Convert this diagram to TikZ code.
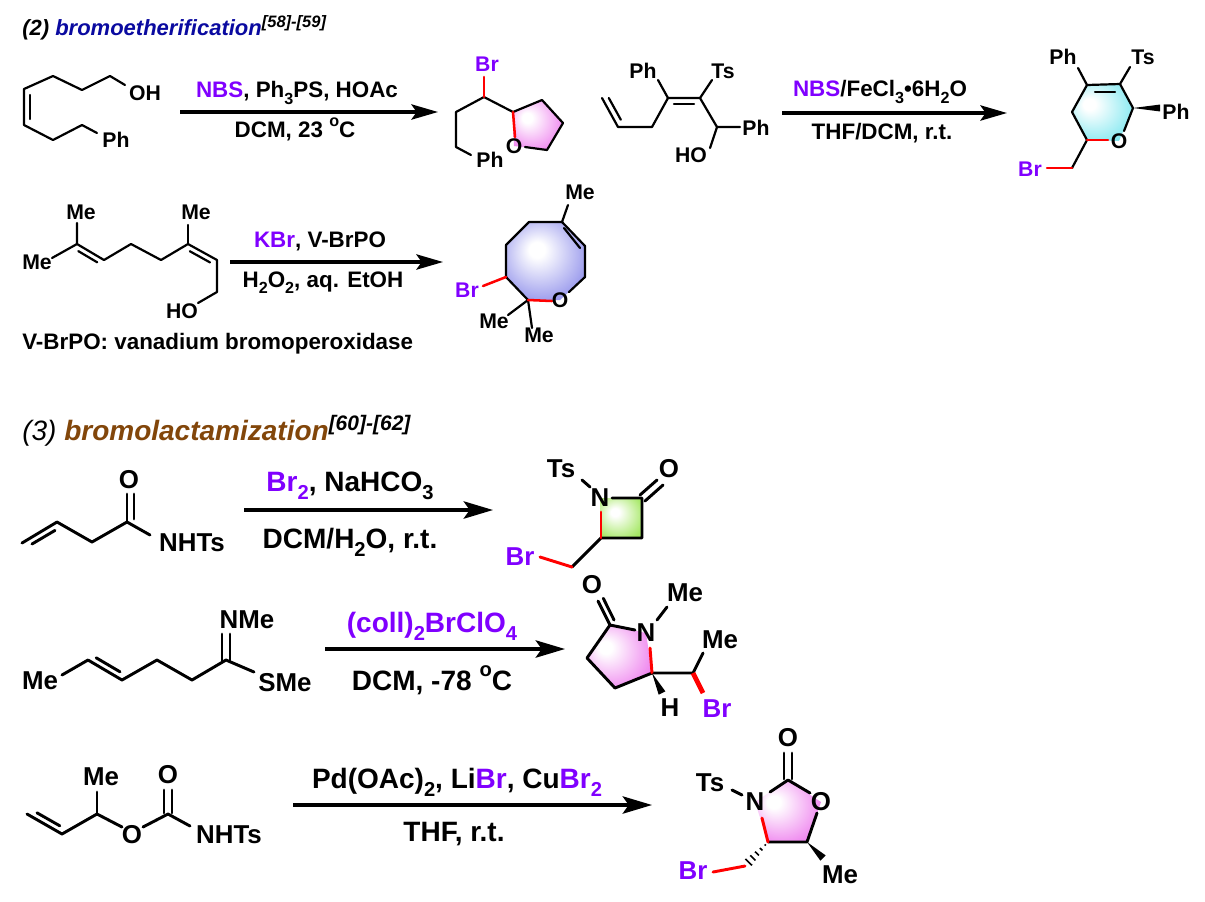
\documentclass[tikz,border=0pt]{standalone}
\usepackage{fontspec}
\setmainfont{Liberation Sans}
\usepackage{graphicx}
\usetikzlibrary{arrows.meta,calc}
\definecolor{brc}{RGB}{128,0,255}
\definecolor{tblue}{RGB}{10,10,160}
\definecolor{tbrown}{RGB}{130,70,10}
\definecolor{ringpink}{RGB}{238,130,238}
\definecolor{ringcyan}{RGB}{130,232,240}
\definecolor{ringlav}{RGB}{145,145,235}
\definecolor{ringgreen}{RGB}{165,232,100}
\pgfdeclareradialshading{shpink}{\pgfpoint{-12bp}{8bp}}{color(0bp)=(white); color(5bp)=(white); color(32bp)=(ringpink); color(50bp)=(ringpink)}
\pgfdeclareradialshading{shcyan}{\pgfpoint{-12bp}{8bp}}{color(0bp)=(white); color(5bp)=(white); color(32bp)=(ringcyan); color(50bp)=(ringcyan)}
\pgfdeclareradialshading{shlav}{\pgfpoint{-6bp}{8bp}}{color(0bp)=(white); color(5bp)=(white); color(32bp)=(ringlav); color(50bp)=(ringlav)}
\pgfdeclareradialshading{shgreen}{\pgfpoint{-8bp}{8bp}}{color(0bp)=(white); color(5bp)=(white); color(32bp)=(ringgreen); color(50bp)=(ringgreen)}
\newcommand\sbs[1]{\raisebox{-0.28em}{\scalebox{0.72}{#1}}}
\newcommand\spo{\raisebox{0.5em}{\scalebox{0.72}{o}}}
\newcommand\fRa{\fontsize{16.8}{18}\selectfont\bfseries}
\newcommand\fLa{\fontsize{15.9}{17}\selectfont\bfseries}
\newcommand\fRb{\fontsize{21}{24}\selectfont\bfseries}
\newcommand\fLb{\fontsize{19.4}{22}\selectfont\bfseries}
\tikzset{
 bA/.style={line width=1.65pt, line cap=round, line join=round},
 bB/.style={line width=2.2pt, line cap=round, line join=round},
 rbA/.style={bA, red, line width=1.9pt},
 rbB/.style={bB, red},
 lA/.style={inner sep=0pt, font=\fLa},
 lB/.style={inner sep=0pt, font=\fLb},
 rgA/.style={inner sep=0pt, font=\fRa},
 rgB/.style={inner sep=0pt, font=\fRb},
 arA/.style={line width=2.3pt, -{Stealth[length=20pt,width=11.5pt,inset=4pt]}},
 arB/.style={line width=2.6pt, -{Stealth[length=22pt,width=13pt,inset=4.5pt]}},
}
\begin{document}
\begin{tikzpicture}[x=0.75pt,y=-0.75pt]
\useasboundingbox (0,0) rectangle (1205,901);
\fill[white] (0,0) rectangle (1205,901);

% ---------------- titles
\node[anchor=base west, inner sep=0pt] (t2) at (22,35) {\fontsize{16.5}{18}\selectfont\bfseries\itshape (2) \textcolor{tblue}{bromoetherification}\raisebox{6pt}{\fontsize{12.4}{14}\selectfont [58]-[59]}};
\node[anchor=base west, inner sep=0pt] (t3) at (22,440) {\fontsize{21}{24}\selectfont\itshape (3) \bfseries\textcolor{tbrown}{bromolactamization}\raisebox{7.5pt}{\fontsize{15.75}{18}\selectfont [60]-[62]}};

% ================= Section 2, row 1, reaction A
\coordinate (a1) at (24,89); \coordinate (a2) at (53,76); \coordinate (a3) at (82,90);
\coordinate (a4) at (110,76); \coordinate (a5) at (125,85);
\coordinate (a6) at (24,125); \coordinate (a7) at (53,140); \coordinate (a8) at (82,125);
\coordinate (a9) at (97,133);
\draw[bA] (a5) -- (a4) -- (a3) -- (a2) -- (a1) -- (a6) -- (a7) -- (a8) -- (a9);
\draw[bA] ($(a1)+(6,6)$) -- ($(a6)+(6,-6)$);
\node[lA] (oh1) at (145,93) {OH};
\node[lA] (ph1) at (116,140) {Ph};

\coordinate (ar1s) at (180,112); \coordinate (ar1e) at (438,112);
\draw[arA] (ar1s) -- (ar1e);
\node[rgA] (rg1a) at (297,93) {\textcolor{brc}{NBS}, Ph\sbs{3}PS, HOAc};
\node[rgA] (rg1b) at (295,129) {DCM, 23 \spo C};

% product A (THF)
\coordinate (b0) at (484,77); \coordinate (b1) at (484,97); \coordinate (b6) at (456,112);
\coordinate (b7) at (456,147); \coordinate (b8) at (471,155);
\coordinate (b2) at (513,112); \coordinate (b3) at (542,100); \coordinate (b4) at (563,123);
\coordinate (b5) at (547,150); \coordinate (b9) at (525,147); \coordinate (b10) at (515,137);
\coordinate (bO) at (514,146);
\shade[shading=shpink] (b2) -- (b3) -- (b4) -- (b5) -- (bO) -- cycle;
\draw[bA] (b8) -- (b7) -- (b6) -- (b1) -- (b2) -- (b3) -- (b4) -- (b5) -- (b9);
\draw[rbA] (b1) -- (b0);
\draw[rbA] (b2) -- (b10);
\node[lA, text=brc] (br1) at (487,64) {Br};
\node[lA] (ph2) at (490,160) {Ph};
\node[lA] (o1) at (bO) {O};

% ================= reaction B reactant
\coordinate (c1) at (602,98); \coordinate (c2) at (618,127); \coordinate (c3) at (652,127);
\coordinate (c4) at (668,98); \coordinate (c5) at (700,98); \coordinate (c6) at (717,127);
\coordinate (c7) at (740,127); \coordinate (c8) at (658,80); \coordinate (c9) at (712,80);
\coordinate (c10) at (710,148);
\draw[bA] (c1) -- (c2) -- (c3) -- (c4) -- (c5) -- (c6) -- (c7);
\draw[bA] (c4) -- (c8); \draw[bA] (c5) -- (c9); \draw[bA] (c6) -- (c10);
\draw[bA] ($(c1)+(6.8,0)$) -- ($(c2)+(2.8,-7.3)$);
\draw[bA] ($(c4)+(6,6)$) -- ($(c5)+(-6,6)$);
\node[lA] (ph3) at (643,71) {Ph};
\node[lA] (ts1) at (723,71) {Ts};
\node[lA] (ph4) at (756,128) {Ph};
\node[lA] (ho1) at (691,155) {HO};

\coordinate (ar2s) at (782,113); \coordinate (ar2e) at (1007,113);
\draw[arA] (ar2s) -- (ar2e);
\node[rgA] (rg2a) at (880,92) {\textcolor{brc}{NBS}/FeCl\sbs{3}•6H\sbs{2}O};
\node[rgA] (rg2b) at (882,133) {THF/DCM, r.t.};

% product B (dihydropyran)
\coordinate (d1) at (1087,85); \coordinate (d2) at (1120,84); \coordinate (d3) at (1133,108);
\coordinate (dO) at (1119,141); \coordinate (d4) at (1087,140); \coordinate (d5) at (1072,112);
\coordinate (d6) at (1072,168); \coordinate (dP) at (1078,68); \coordinate (dT) at (1130,67);
\coordinate (d3o) at (1124,131); \coordinate (d4o) at (1108,140); \coordinate (dB) at (1047,168);
\coordinate (dW) at (1160,108);
\shade[shading=shcyan] (d1) -- (d2) -- (d3) -- (dO) -- (d4) -- (d5) -- cycle;
\draw[bA] (dP) -- (d1) -- (d2) -- (dT);
\draw[bA] (d2) -- (d3) -- (d3o);
\draw[bA] (d4) -- (d5) -- (d1);
\draw[bA] (d4) -- (d6);
\draw[bA] ($(d1)+(8,7)$) -- ($(d2)+(-5,8)$);
\draw[rbA] (d4) -- (d4o);
\draw[rbA] (d6) -- (dB);
\fill (d3) -- ($(dW)!2.6pt!90:(d3)$) -- ($(dW)!2.6pt!-90:(d3)$) -- cycle;
\node[lA] (ph5) at (1063,57) {Ph};
\node[lA] (ts2) at (1143,57) {Ts};
\node[lA] (ph6) at (1176,112) {Ph};
\node[lA] (o2) at (dO) {O};
\node[lA, text=brc] (br2) at (1030,169) {Br};

% ================= Section 2, row 2
\coordinate (e0) at (77,223); \coordinate (e1) at (77,244); \coordinate (eL) at (52,258);
\coordinate (e2) at (104,260); \coordinate (e3) at (131,244); \coordinate (e4) at (161,260);
\coordinate (e5) at (188,244); \coordinate (e5m) at (188,225); \coordinate (e6) at (217,260);
\coordinate (e7) at (217,292); \coordinate (e8) at (198,303);
\draw[bA] (e0) -- (e1) -- (e2) -- (e3) -- (e4) -- (e5) -- (e6) -- (e7) -- (e8);
\draw[bA] (e1) -- (eL); \draw[bA] (e5) -- (e5m);
\draw[bA] ($(e1)+(1.3,7.1)$) -- ($(e2)+(-6.8,2.3)$);
\draw[bA] ($(e5)+(1.8,7.2)$) -- ($(e6)+(-7,2.4)$);
\node[lA] (me1) at (81,212) {Me};
\node[lA] (me2) at (37,262) {Me};
\node[lA] (me3) at (196,212) {Me};
\node[lA] (ho2) at (182,311) {HO};
\node[rgA, anchor=west] (vbr) at (22,344) {V-BrPO: vanadium bromoperoxidase};

\coordinate (ar3s) at (230,262); \coordinate (ar3e) at (443,262);
\draw[arA] (ar3s) -- (ar3e);
\node[rgA] (rg3a) at (320,241) {\textcolor{brc}{KBr}, V-BrPO};
\node[rgA] (rg3b) at (323,283) {H\sbs{2}O\sbs{2}, aq. EtOH};

% product (oxocene)
\coordinate (f1) at (562,222); \coordinate (f2) at (529,222); \coordinate (f3) at (506,245);
\coordinate (f4) at (506,277); \coordinate (f5) at (528,300); \coordinate (fO) at (560,300);
\coordinate (f7) at (585,277); \coordinate (f8) at (585,246); \coordinate (fM) at (568,205);
\coordinate (f7o) at (569,292); \coordinate (f5o) at (552,301); \coordinate (fB) at (483,286);
\coordinate (fM1) at (508,315); \coordinate (fM2) at (532,328);
\shade[shading=shlav] (f1) -- (f2) -- (f3) -- (f4) -- (f5) -- (fO) -- (f7) -- (f8) -- cycle;
\draw[bA] (fM) -- (f1) -- (f2) -- (f3) -- (f4) -- (f5);
\draw[bA] (f1) -- (f8) -- (f7) -- (f7o);
\draw[bA] ($(f1)+(2,6)$) -- ($(f8)+(-5,2)$);
\draw[bA] (f5) -- (fM1); \draw[bA] (f5) -- (fM2);
\draw[rbA] (f5) -- (f5o);
\draw[rbA] (f4) -- (fB);
\node[lA] (me4) at (580,192) {Me};
\node[lA] (o3) at (fO) {O};
\node[lA, text=brc] (br3) at (467,290) {Br};
\node[lA] (me5) at (494,321) {Me};
\node[lA] (me6) at (539,335) {Me};

% ================= Section 3, row 1
\coordinate (g1) at (22,543); \coordinate (g2) at (57,522); \coordinate (g3) at (92,542);
\coordinate (g4) at (127,522); \coordinate (gO) at (127,494); \coordinate (gN) at (150,535);
\draw[bB] (g1) -- (g2) -- (g3) -- (g4) -- (gN);
\draw[bB] (g4) -- (gO);
\draw[bB] ($(g1)+(10,1)$) -- ($(g2)+(-2,8.4)$);
\draw[bB] ($(g4)+(7,-3)$) -- ($(gO)+(7,0)$);
\node[lB] (o4) at (129,480) {O};
\node[lB] (nh1) at (192,543) {NHTs};

\coordinate (ar4s) at (244,510); \coordinate (ar4e) at (493,510);
\draw[arB] (ar4s) -- (ar4e);
\node[rgB] (rg4a) at (350,486) {\textcolor{brc}{Br\sbs{2}}, NaHCO\sbs{3}};
\node[rgB] (rg4b) at (350,542) {DCM/H\sbs{2}O, r.t.};

% product (beta-lactam)
\coordinate (hN) at (600,498); \coordinate (hT1) at (582,480); \coordinate (hT2) at (590,487);
\coordinate (hN1) at (612,498); \coordinate (hC) at (642,498); \coordinate (hD) at (642,538);
\coordinate (hE) at (601,538); \coordinate (hN2) at (601,512); \coordinate (hF) at (572,567);
\coordinate (hB) at (540,557); \coordinate (hO) at (660,482);
\shade[shading=shgreen] (hN) -- (hC) -- (hD) -- (hE) -- cycle;
\draw[bB] (hT1) -- (hT2);
\draw[bB] (hN1) -- (hC) -- (hD) -- (hE) -- (hF);
\draw[bB] ($(hC)+(-2,-3)$) -- ($(hO)+(-3,-2)$);
\draw[bB] ($(hC)+(3,3)$) -- ($(hO)+(3,3)$);
\draw[rbB] (hE) -- (hN2);
\draw[rbB] (hF) -- (hB);
\node[lB] (ts3) at (561,469) {Ts};
\node[lB] (n1) at (hN) {N};
\node[lB] (o5) at (669,469) {O};
\node[lB, text=brc] (br4) at (520,557) {Br};

% ================= Section 3, row 2
\coordinate (i0) at (62,675); \coordinate (i1) at (88,660); \coordinate (i2) at (122,680);
\coordinate (i3) at (157,660); \coordinate (i4) at (192,680); \coordinate (i5) at (226,660);
\coordinate (iS) at (254,672); \coordinate (iN) at (226,634);
\draw[bB] (i0) -- (i1) -- (i2) -- (i3) -- (i4) -- (i5) -- (iS);
\draw[bB] ($(i1)+(8.2,-2.2)$) -- ($(i2)+(-2,-8.2)$);
\draw[bB] ($(i5)+(-4,1)$) -- ($(iN)+(-4,0)$);
\draw[bB] ($(i5)+(4,1)$) -- ($(iN)+(4,0)$);
\node[lB] (me7) at (40,681) {Me};
\node[lB] (sme) at (285,683) {SMe};
\node[lB] (nme) at (247,620) {NMe};

\coordinate (ar5s) at (325,649); \coordinate (ar5e) at (565,649);
\draw[arB] (ar5s) -- (ar5e);
\node[rgB] (rg5a) at (432,626) {\textcolor{brc}{(coll)\sbs{2}BrClO\sbs{4}}};
\node[rgB] (rg5b) at (432,680) {DCM, -78 \spo C};

% product (pyrrolidinone)
\coordinate (jO) at (592,585); \coordinate (jC) at (610,625); \coordinate (jOe) at (598,601);
\coordinate (jNe) at (635,630); \coordinate (jN) at (646,633); \coordinate (jM1) at (657,620);
\coordinate (jM2) at (667,607); \coordinate (jN2) at (650,648); \coordinate (jE) at (652,673);
\coordinate (jD) at (615,688); \coordinate (jC3) at (587,658); \coordinate (jH) at (662,693);
\coordinate (jS) at (693,673); \coordinate (jSM) at (703,653); \coordinate (jB) at (703,693);
\shade[shading=shpink] (jC) -- (jN) -- (jE) -- (jD) -- (jC3) -- cycle;
\draw[bB] (jOe) -- (jC) -- (jNe);
\draw[bB] ($(jC)+(4,-5)$) -- ($(jOe)+(5.3,-2.7)$);
\draw[bB] (jM1) -- (jM2);
\draw[bB] (jE) -- (jD) -- (jC3) -- (jC);
\draw[bB] (jE) -- (jS) -- (jSM);
\draw[rbB] (jN2) -- (jE);
\fill (jE) -- ($(jH)!2.8pt!90:(jE)$) -- ($(jH)!2.8pt!-90:(jE)$) -- cycle;
\draw[red, line width=3.6pt] (jS) -- (jB);
\node[lB] (o6) at (jO) {O};
\node[lB] (n2) at (jN) {N};
\node[lB] (me8) at (685,593) {Me};
\node[lB] (me9) at (720,640) {Me};
\node[lB] (h1) at (670,708) {H};
\node[lB, text=brc] (br5) at (717,709) {Br};

% ================= Section 3, row 3
\coordinate (k1) at (27,814); \coordinate (k2) at (62,834); \coordinate (k3) at (97,814);
\coordinate (kM) at (97,792); \coordinate (kO1) at (122,827); \coordinate (kO2) at (143,827);
\coordinate (k5) at (168,814); \coordinate (kOe) at (168,790); \coordinate (kN) at (190,826);
\draw[bB] (k1) -- (k2) -- (k3) -- (kO1);
\draw[bB] (k3) -- (kM);
\draw[bB] (kO2) -- (k5) -- (kN);
\draw[bB] ($(k1)+(10,-1.2)$) -- ($(k2)+(-2.2,-8.2)$);
\draw[bB] ($(k5)+(-4,-1)$) -- ($(kOe)+(-4,0)$);
\draw[bB] ($(k5)+(4,-1)$) -- ($(kOe)+(4,0)$);
\node[lB] (me10) at (101,777) {Me};
\node[lB] (o7) at (132,835) {O};
\node[lB] (o8) at (168,775) {O};
\node[lB] (nh2) at (229,835) {NHTs};

\coordinate (ar6s) at (293,805); \coordinate (ar6e) at (652,805);
\draw[arB] (ar6s) -- (ar6e);
\node[rgB] (rg6a) at (457,782) {Pd(OAc)\sbs{2}, Li\textcolor{brc}{Br}, Cu\textcolor{brc}{Br\sbs{2}}};
\node[rgB] (rg6b) at (454,834) {THF, r.t.};

% product (oxazolidinone)
\coordinate (lOt) at (788,738); \coordinate (lC) at (788,780); \coordinate (lOe) at (788,753);
\coordinate (lNe) at (770,792); \coordinate (lN) at (755,802); \coordinate (lT1) at (732,790);
\coordinate (lT2) at (742,795); \coordinate (lO2e) at (810,793); \coordinate (lO) at (821,802);
\coordinate (lO3) at (817,813); \coordinate (lC5) at (807,842); \coordinate (lC4) at (768,842);
\coordinate (lN2) at (762,818); \coordinate (lW) at (823,858); \coordinate (lH) at (745,866);
\coordinate (lB) at (713,872);
\shade[shading=shpink] (lN) -- (lC) -- (lO) -- (lC5) -- (lC4) -- cycle;
\draw[bB] ($(lC)+(-4,-1)$) -- ($(lOe)+(-4,0)$);
\draw[bB] ($(lC)+(4,-1)$) -- ($(lOe)+(4,0)$);
\draw[bB] (lNe) -- (lC) -- (lO2e);
\draw[bB] (lT1) -- (lT2);
\draw[bB] (lO3) -- (lC5) -- (lC4);
\draw[rbB] (lC4) -- (lN2);
\draw[rbB] (lH) -- (lB);
\fill (lC5) -- ($(lW)!2.8pt!90:(lC5)$) -- ($(lW)!2.8pt!-90:(lC5)$) -- cycle;
\foreach \t/\w in {0.12/0.6,0.3/1.3,0.48/2.0,0.66/2.7,0.84/3.4}{
  \coordinate (hp) at ($(lC4)!\t!(lH)$);
  \draw[line width=1.2pt] ($(hp)!\w pt!90:(lH)$) -- ($(hp)!\w pt!-90:(lH)$);
}
\node[lB] (o9) at (lOt) {O};
\node[lB] (n3) at (lN) {N};
\node[lB] (ts4) at (710,783) {Ts};
\node[lB] (o10) at (lO) {O};
\node[lB] (me11) at (840,875) {Me};
\node[lB, text=brc] (br6) at (693,871) {Br};
\end{tikzpicture}
\end{document}
